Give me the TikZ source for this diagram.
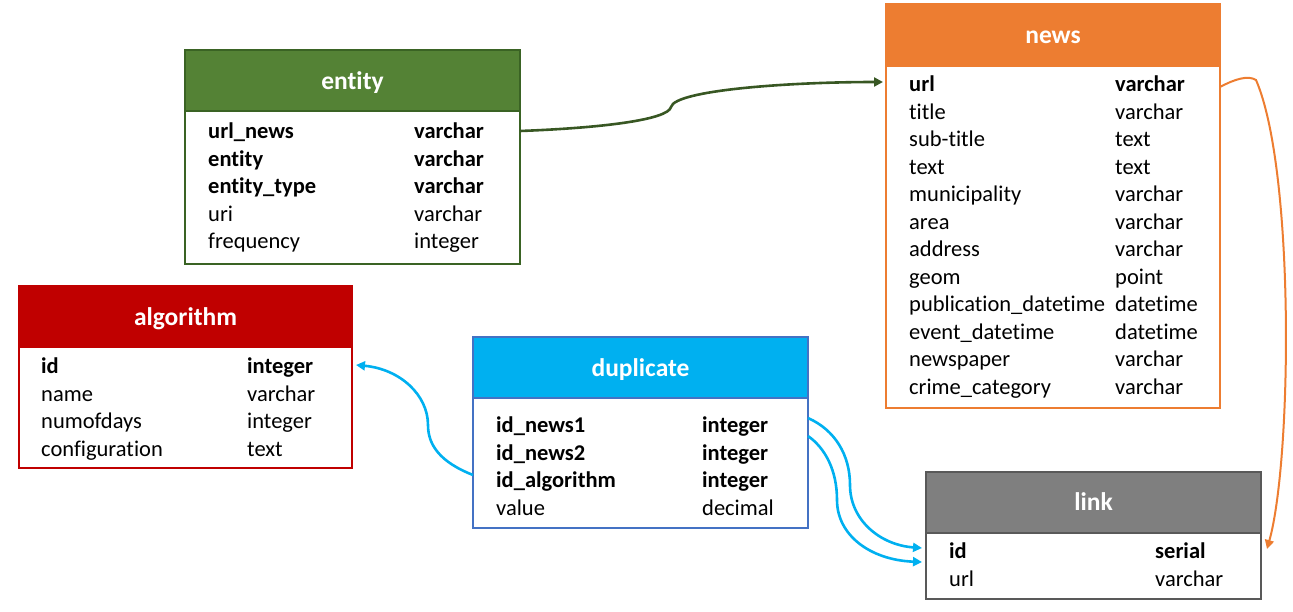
\documentclass[tikz,border=0pt]{standalone}
\usepackage{fontspec}
\setmainfont[Ligatures=NoCommon]{Carlito}
\usetikzlibrary{arrows.meta}
\definecolor{entg}{HTML}{548235}
\definecolor{entb}{HTML}{3A6324}
\definecolor{arrg}{HTML}{385723}
\definecolor{newso}{HTML}{ED7D31}
\definecolor{algr}{HTML}{C00000}
\definecolor{dupb}{HTML}{00B0F0}
\definecolor{dupe}{HTML}{4472C4}
\definecolor{linkg}{HTML}{7F7F7F}
\definecolor{linke}{HTML}{595959}
\tikzset{
  x=1pt,y=-1pt,
  fld/.style={anchor=west,inner sep=0pt,text height=17pt,text depth=3pt,font=\fontsize{22.5}{22.5}\selectfont},
  bfld/.style={fld,font=\fontsize{22.5}{22.5}\selectfont\bfseries},
  ttl/.style={text=white,inner sep=0pt,text height=20pt,text depth=3pt,font=\fontsize{25.5}{25.5}\selectfont\bfseries},
  conn/.style={line width=2.6pt,-{Triangle[length=9pt,width=9pt]}},
}
\newcommand{\tbl}[8]{% name, x1,y1 header top, y2 header bottom, x2, y3 body bottom, fill, edge
  \fill[#7] (#2,#3) rectangle (#5,#4);
  \draw[#8,line width=1.2pt] (#2,#3) rectangle (#5,#6);
  \draw[#8,line width=1.2pt] (#2,#4) -- (#5,#4);
}
\begin{document}
\begin{tikzpicture}
\useasboundingbox (0,0) rectangle (1293,611);
% entity
\tbl{entity}{185}{50}{111}{520}{264}{entg}{entb}
\node[ttl] (entT) at (352.5,81) {entity};
\node[bfld] (e1) at (208,131) {url\_news};
\node[bfld] (e1t) at (414,131) {varchar};
\node[bfld] (e2) at (208,159) {entity};
\node[bfld] (e2t) at (414,159) {varchar};
\node[bfld] (e3) at (208,186) {entity\_type};
\node[bfld] (e3t) at (414,186) {varchar};
\node[fld] (e4) at (208,214) {uri};
\node[fld] (e4t) at (414,214) {varchar};
\node[fld] (e5) at (208,241) {frequency};
\node[fld] (e5t) at (414,241) {integer};
\coordinate (entR) at (520,131);
% news
\tbl{news}{886}{4}{66}{1220}{408}{newso}{newso}
\node[ttl] (newsT) at (1053,35) {news};
\node[bfld] (n1) at (909,84) {url};
\node[bfld] (n1t) at (1115,84) {varchar};
\node[fld] (n2) at (909,112) {title};
\node[fld] (n2t) at (1115,112) {varchar};
\node[fld] (n3) at (909,139) {sub-title};
\node[fld] (n3t) at (1115,139) {text};
\node[fld] (n4) at (909,167) {text};
\node[fld] (n4t) at (1115,167) {text};
\node[fld] (n5) at (909,194) {municipality};
\node[fld] (n5t) at (1115,194) {varchar};
\node[fld] (n6) at (909,222) {area};
\node[fld] (n6t) at (1115,222) {varchar};
\node[fld] (n7) at (909,249) {address};
\node[fld] (n7t) at (1115,249) {varchar};
\node[fld] (n8) at (909,277) {geom};
\node[fld] (n8t) at (1115,277) {point};
\node[fld] (n9) at (909,304) {publication\_datetime};
\node[fld] (n9t) at (1115,304) {datetime};
\node[fld] (n10) at (909,332) {event\_datetime};
\node[fld] (n10t) at (1115,332) {datetime};
\node[fld] (n11) at (909,359) {newspaper};
\node[fld] (n11t) at (1115,359) {varchar};
\node[fld] (n12) at (909,387) {crime\_category};
\node[fld] (n12t) at (1115,387) {varchar};
\coordinate (newsL) at (883,82);
\coordinate (newsR) at (1220,87);
% algorithm
\tbl{algorithm}{19}{286}{347}{352}{468}{algr}{algr}
\node[ttl] (algT) at (185.5,317) {algorithm};
\node[bfld] (a1) at (41,366) {id};
\node[bfld] (a1t) at (247,366) {integer};
\node[fld] (a2) at (41,394) {name};
\node[fld] (a2t) at (247,394) {varchar};
\node[fld] (a3) at (41,421) {numofdays};
\node[fld] (a3t) at (247,421) {integer};
\node[fld] (a4) at (41,449) {configuration};
\node[fld] (a4t) at (247,449) {text};
\coordinate (algR) at (356,365);
% duplicate
\tbl{duplicate}{473}{337}{398}{808}{528}{dupb}{dupe}
\node[ttl] (dupT) at (640.5,368) {duplicate};
\node[bfld] (d1) at (496,425) {id\_news1};
\node[bfld] (d1t) at (702,425) {integer};
\node[bfld] (d2) at (496,453) {id\_news2};
\node[bfld] (d2t) at (702,453) {integer};
\node[bfld] (d3) at (496,480) {id\_algorithm};
\node[bfld] (d3t) at (702,480) {integer};
\node[fld] (d4) at (496,508) {value};
\node[fld] (d4t) at (702,508) {decimal};
\coordinate (dupL) at (473,475);
\coordinate (dupR1) at (808,418);
\coordinate (dupR2) at (808,436);
% link
\tbl{link}{926}{472}{533}{1261}{599}{linkg}{linke}
\node[ttl] (linkT) at (1093.5,502) {link};
\node[bfld] (l1) at (949,551) {id};
\node[bfld] (l1t) at (1155,551) {serial};
\node[fld] (l2) at (949,579) {url};
\node[fld] (l2t) at (1155,579) {varchar};
\coordinate (linkL1) at (922,548);
\coordinate (linkL2) at (922,562);
\coordinate (linkR) at (1267,549);
% connectors
\draw[conn,arrg] (entR) .. controls (600,128) and (668,120) .. (671,107)
  .. controls (675,90) and (790,82) .. (newsL);
\draw[conn,newso,line width=2pt] (newsR) .. controls (1235,79) and (1248,75) .. (1256,80)
  .. controls (1295,170) and (1292,460) .. (linkR);
\draw[conn,dupb] (dupL) .. controls (440,462) and (428,445) .. (428,425)
  .. controls (428,395) and (400,369) .. (algR);
\draw[conn,dupb] (dupR1) .. controls (835,430) and (850,455) .. (850,485)
  .. controls (850,520) and (880,545) .. (linkL1);
\draw[conn,dupb] (dupR2) .. controls (825,448) and (837,470) .. (837,500)
  .. controls (837,535) and (870,560) .. (linkL2);
\end{tikzpicture}
\end{document}
